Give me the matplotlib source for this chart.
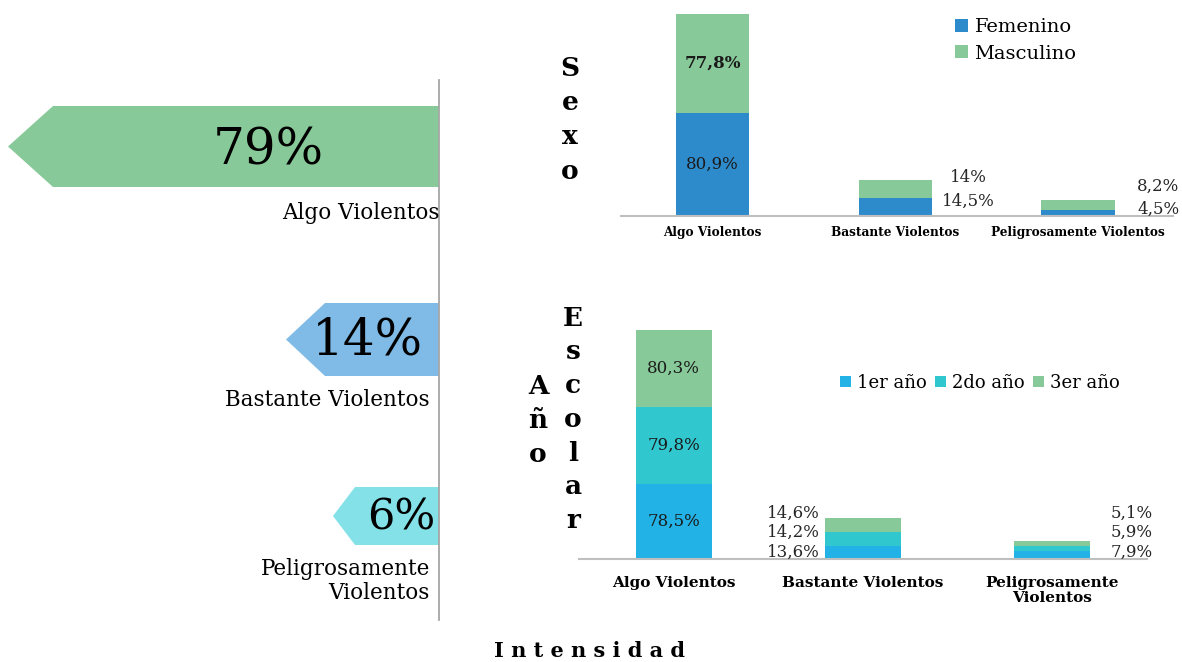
import numpy as np
import matplotlib.pyplot as plt
from matplotlib.patches import Polygon

plt.rcParams['font.family'] = ['DejaVu Serif']

# datos
categorias = ['Algo Violentos', 'Bastante Violentos', 'Peligrosamente Violentos']
intensidad = [79, 14, 6]

femenino = [80.9, 14.5, 4.5]
masculino = [77.8, 14.0, 8.2]

primer_anio = [78.5, 13.6, 7.9]
segundo_anio = [79.8, 14.2, 5.9]
tercer_anio = [80.3, 14.6, 5.1]


def pct(v):
    return f'{v:g}'.replace('.', ',') + '%'


verde = '#88C999'
azul = '#2E8BCB'
celeste = '#23B2E5'
turquesa = '#31C7CF'

fig = plt.figure(figsize=(11.82, 6.62), dpi=100)

# lienzo en pixeles para las flechas y los rotulos sueltos
bg = fig.add_axes([0, 0, 1, 1])
bg.set_xlim(0, 1182)
bg.set_ylim(662, 0)
bg.axis('off')

eje_x = 439
bg.plot([eje_x, eje_x], [80, 620], color='#A6A6A6', lw=1.3)

# forma de cada flecha: punta, inicio del cuerpo, arriba, abajo
flechas = [(8, 53, 106, 187, verde, 36),
           (286, 325, 303, 376, '#7FBBE6', 36),
           (333, 355, 487, 545, '#84E1E8', 31)]
pos_pct = [(268, 151), (367, 341), (401, 518)]
for (tip, body, top, bot, col, fs), val, (tx, ty) in zip(flechas, intensidad, pos_pct):
    mid = (top + bot) / 2
    bg.add_patch(Polygon([(eje_x, top), (body, top), (tip, mid), (body, bot), (eje_x, bot)],
                         closed=True, facecolor=col, edgecolor='none'))
    bg.text(tx, ty, f'{val}%', fontsize=fs, ha='center', va='center', color='black')

bg.text(440, 213, 'Algo Violentos', fontsize=15.5, ha='right', va='center')
bg.text(430, 400, 'Bastante Violentos', fontsize=15.5, ha='right', va='center')
bg.text(430, 581, 'Peligrosamente\nViolentos', fontsize=15.5, ha='right', va='center',
        multialignment='right', linespacing=1.1)

# letras verticales
for i, ch in enumerate('Sexo'):
    bg.text(570, 68 + i * 34.5, ch, fontsize=19, fontweight='bold', ha='center', va='center')
for i, ch in enumerate('Año'):
    bg.text(538, 387 + i * 34, ch, fontsize=19, fontweight='bold', ha='center', va='center')
for i, ch in enumerate('Escolar'):
    bg.text(573, 318 + i * 33.8, ch, fontsize=19, fontweight='bold', ha='center', va='center')

bg.text(590, 651, ' '.join('Intensidad'), fontsize=15, fontweight='bold',
        ha='center', va='center')

x = np.arange(len(categorias))
ancho = 0.4


def limpiar(ax):
    ax.set_facecolor('none')
    for s in ['top', 'right', 'left']:
        ax.spines[s].set_visible(False)
    ax.spines['bottom'].set_color('#BFBFBF')
    ax.spines['bottom'].set_linewidth(1.5)
    ax.set_yticks([])


# --- Sexo ---
ax1 = fig.add_axes([621 / 1182, 1 - 216 / 662, 552 / 1182, 202 / 662])
ax1.bar(x, femenino, ancho, color=azul, label='Femenino')
ax1.bar(x, masculino, ancho, bottom=femenino, color=verde, label='Masculino')
ax1.set_xlim(-0.5, 2.52)
ax1.set_ylim(0, max(np.add(femenino, masculino)))
limpiar(ax1)
ax1.set_xticks(x)
ax1.set_xticklabels(categorias, fontsize=8.7, fontweight='bold')
ax1.tick_params(axis='x', length=0, pad=7)

ax1.text(x[0], femenino[0] / 2, pct(femenino[0]), fontsize=12, ha='center', va='center',
         color='#1a1a1a')
ax1.text(x[0], femenino[0] + masculino[0] / 2, pct(masculino[0]), fontsize=12,
         fontweight='bold', ha='center', va='center', color='#1a1a1a')
# etiquetas al costado de las barras chicas
lado_sexo = {1: (0.40, 11.8, 30.6), 2: (0.44, 5.5, 23.6)}
for i, (dx, yf, ym) in lado_sexo.items():
    ax1.text(x[i] + dx, yf, pct(femenino[i]), fontsize=12, ha='center', va='center',
             color='#262626', clip_on=False)
    ax1.text(x[i] + dx, ym, pct(masculino[i]), fontsize=12, ha='center', va='center',
             color='#262626', clip_on=False)

ax1.legend(loc='upper left', bbox_to_anchor=(955 / 1182, 1 - 18 / 662),
           bbox_transform=fig.transFigure, frameon=False, fontsize=14,
           handlelength=0.65, handleheight=0.65, handletextpad=0.35,
           labelspacing=0.45, borderpad=0, borderaxespad=0)

# --- Año escolar ---
ax2 = fig.add_axes([579 / 1182, 1 - 559 / 662, 568 / 1182, 229 / 662])
ax2.bar(x, primer_anio, ancho, color=celeste, label='1er año')
ax2.bar(x, segundo_anio, ancho, bottom=primer_anio, color=turquesa, label='2do año')
base3 = np.add(primer_anio, segundo_anio)
ax2.bar(x, tercer_anio, ancho, bottom=base3, color=verde, label='3er año')
ax2.set_xlim(-0.5, 2.5)
ax2.set_ylim(0, max(base3 + np.array(tercer_anio)))
limpiar(ax2)
ax2.set_xticks(x)
ax2.set_xticklabels(['Algo Violentos', 'Bastante Violentos', 'Peligrosamente\nViolentos'],
                    fontsize=11, fontweight='bold', linespacing=1.15)
ax2.tick_params(axis='x', length=0, pad=12)

series = [primer_anio, segundo_anio, tercer_anio]
abajo = 0
for s in series:
    ax2.text(x[0], abajo + s[0] / 2, pct(s[0]), fontsize=12, ha='center', va='center',
             color='#1a1a1a')
    abajo += s[0]

alturas = [7.3, 28, 48]
for s, y in zip(series, alturas):
    ax2.text(x[1] - 0.23, y, pct(s[1]), fontsize=12, ha='right', va='center',
             color='#262626', clip_on=False)
    ax2.text(x[2] + 0.31, y, pct(s[2]), fontsize=12, ha='left', va='center',
             color='#262626', clip_on=False)

ax2.legend(loc='upper left', bbox_to_anchor=(840 / 1182, 1 - 374 / 662),
           bbox_transform=fig.transFigure, frameon=False, fontsize=13, ncol=3,
           handlelength=0.6, handleheight=0.6, handletextpad=0.35,
           columnspacing=0.45, borderpad=0, borderaxespad=0)

fig.savefig('out.png', dpi=100)
